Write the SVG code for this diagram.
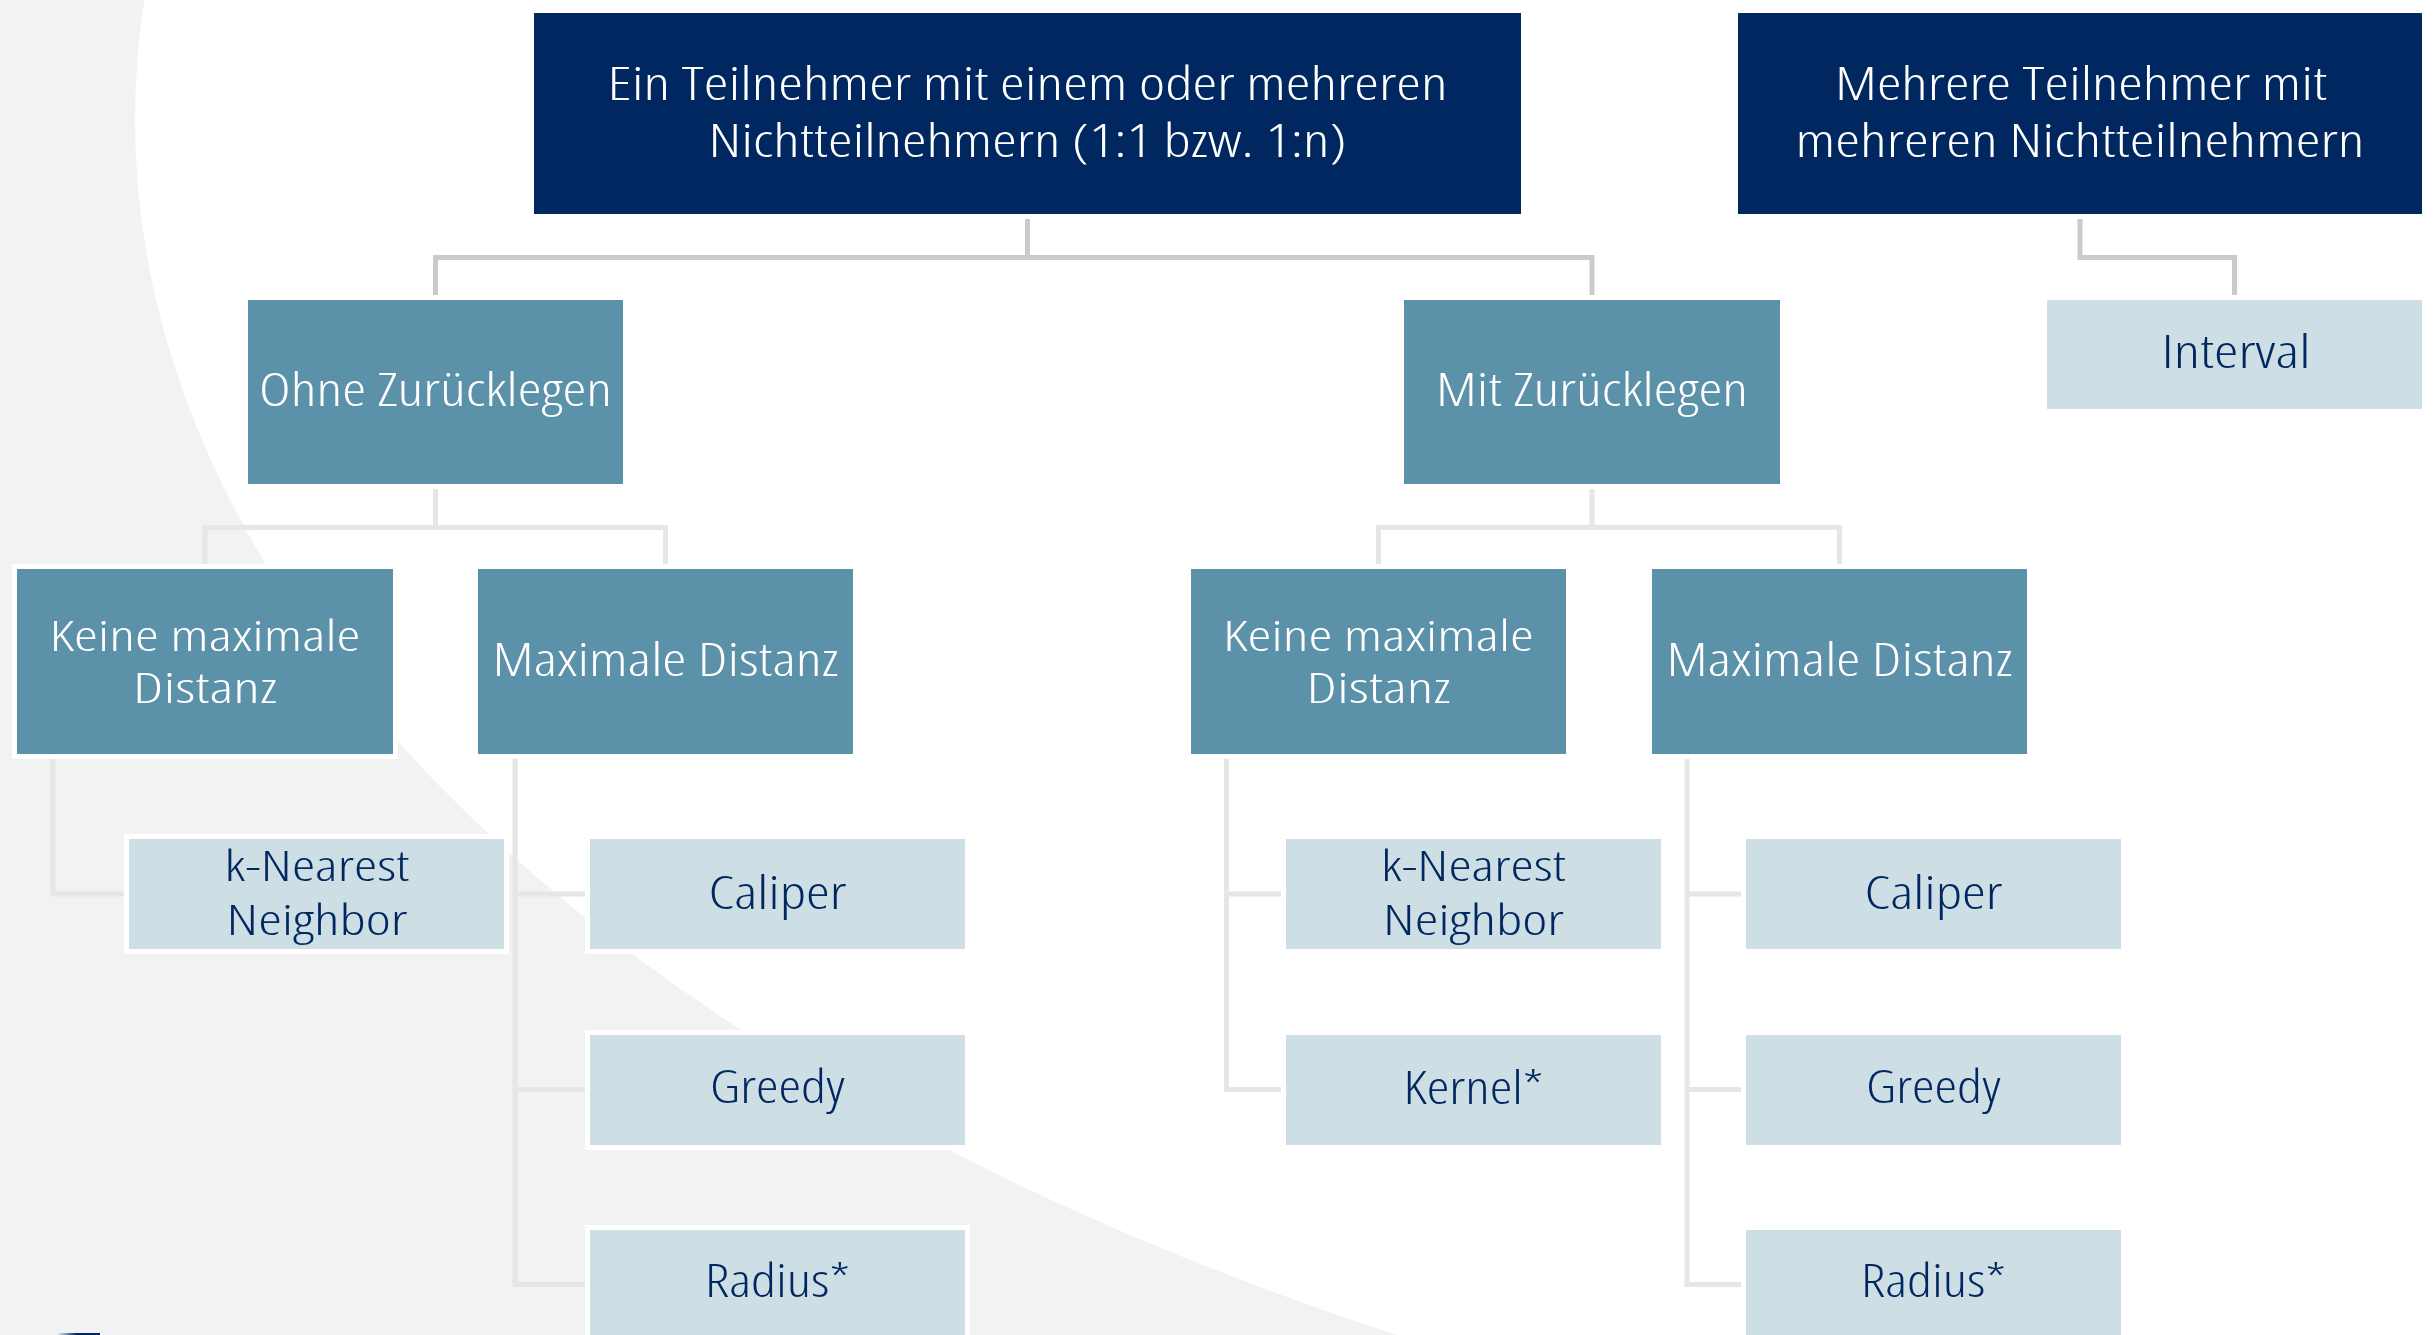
<svg xmlns="http://www.w3.org/2000/svg" width="2435" height="1335" viewBox="0 0 2435 1335">
<style>
.bg{fill:#f2f2f2}
.hole{fill:#ffffff}
.c1{fill:none;stroke:#cbcbcb;stroke-width:5}
.c2{fill:none;stroke:#e6e6e6;stroke-width:5}
.box{stroke:#ffffff;stroke-width:10;paint-order:stroke}
.navy{fill:#00275f}
.mid{fill:#5c91aa}
.light{fill:#cddee5}
text{font-family:"Open Sans","Noto Sans","Liberation Sans",sans-serif;font-size:46px;font-weight:300;font-stretch:80%;text-anchor:middle}
text.two{font-size:42px}
.tw{fill:#ffffff}
.tn{fill:#00275f}
</style>
<defs>
<linearGradient id="fade" x1="0" y1="0" x2="1" y2="0">
<stop offset="0" stop-color="#00275f" stop-opacity="0"/>
<stop offset="0.45" stop-color="#00275f" stop-opacity="1"/>
</linearGradient>
</defs>
<rect class="bg" x="0" y="0" width="2435" height="1335"/>
<ellipse class="hole" cx="2719" cy="120" rx="2584" ry="1414"/>
<rect x="57" y="1333" width="43" height="2" fill="url(#fade)"/>

<g id="connectors">
<path class="c1" d="M1027.5 214 V257.5 M435.5 300 V257.5 H1592 V300"/>
<path class="c1" d="M2080 214 V257.5 H2234.5 V300"/>
<path class="c2" d="M435.5 484 V527.5 M205 569 V527.5 H665.5 V569"/>
<path class="c2" d="M1592 484 V527.5 M1378.5 569 V527.5 H1839.5 V569"/>
<path class="c2" d="M53 754 V894 H129"/>
<path class="c2" d="M515 754 V1284.5 H590 M515 894 H590 M515 1089.5 H590"/>
<path class="c2" d="M1226.5 754 V1089.5 H1286 M1226.5 894 H1286"/>
<path class="c2" d="M1687 754 V1284.5 H1746 M1687 894 H1746 M1687 1089.5 H1746"/>
</g>

<g id="n-top1">
<rect class="box navy" x="534" y="13" width="987" height="201"/>
<text class="tw"><tspan x="1027.5" y="100" textLength="840" lengthAdjust="spacingAndGlyphs">Ein Teilnehmer mit einem oder mehreren</tspan><tspan x="1027.5" y="157" textLength="638" lengthAdjust="spacingAndGlyphs">Nichtteilnehmern (1:1 bzw. 1:n)</tspan></text>
</g>
<g id="n-top2">
<rect class="box navy" x="1738" y="13" width="684" height="201"/>
<text class="tw"><tspan x="2081" y="100" textLength="492" lengthAdjust="spacingAndGlyphs">Mehrere Teilnehmer mit</tspan><tspan x="2080" y="157" textLength="569" lengthAdjust="spacingAndGlyphs">mehreren Nichtteilnehmern</tspan></text>
</g>
<g id="n-ohne">
<rect class="box mid" x="248" y="300" width="375" height="184"/>
<text class="tw" x="435.5" y="406" textLength="353" lengthAdjust="spacingAndGlyphs">Ohne Zurücklegen</text>
</g>
<g id="n-mit">
<rect class="box mid" x="1404" y="300" width="376" height="184"/>
<text class="tw" x="1592" y="406" textLength="312" lengthAdjust="spacingAndGlyphs">Mit Zurücklegen</text>
</g>
<g id="n-interval">
<rect class="box light" x="2047" y="300" width="375" height="109"/>
<text class="tn" x="2236" y="368" textLength="149" lengthAdjust="spacingAndGlyphs">Interval</text>
</g>
<g id="n-keine-l">
<rect class="box mid" x="17" y="569" width="376" height="185"/>
<text class="tw two"><tspan x="205" y="651" textLength="311" lengthAdjust="spacingAndGlyphs">Keine maximale</tspan><tspan x="205" y="703" textLength="144" lengthAdjust="spacingAndGlyphs">Distanz</tspan></text>
</g>
<g id="n-max-l">
<rect class="box mid" x="478" y="569" width="375" height="185"/>
<text class="tw" x="665.5" y="676" textLength="346" lengthAdjust="spacingAndGlyphs">Maximale Distanz</text>
</g>
<g id="n-keine-r">
<rect class="box mid" x="1191" y="569" width="375" height="185"/>
<text class="tw two"><tspan x="1378.5" y="651" textLength="311" lengthAdjust="spacingAndGlyphs">Keine maximale</tspan><tspan x="1378.5" y="703" textLength="144" lengthAdjust="spacingAndGlyphs">Distanz</tspan></text>
</g>
<g id="n-max-r">
<rect class="box mid" x="1652" y="569" width="375" height="185"/>
<text class="tw" x="1839.5" y="676" textLength="346" lengthAdjust="spacingAndGlyphs">Maximale Distanz</text>
</g>
<g id="n-knn-l">
<rect class="box light" x="129" y="839" width="375" height="110"/>
<text class="tn two"><tspan x="317" y="881" textLength="185" lengthAdjust="spacingAndGlyphs">k-Nearest</tspan><tspan x="317" y="935" textLength="181" lengthAdjust="spacingAndGlyphs">Neighbor</tspan></text>
</g>
<g id="n-caliper-l">
<rect class="box light" x="590" y="839" width="375" height="110"/>
<text class="tn" x="777.5" y="909" textLength="138" lengthAdjust="spacingAndGlyphs">Caliper</text>
</g>
<g id="n-greedy-l">
<rect class="box light" x="590" y="1035" width="375" height="110"/>
<text class="tn" x="777.5" y="1103" textLength="135" lengthAdjust="spacingAndGlyphs">Greedy</text>
</g>
<g id="n-radius-l">
<rect class="box light" x="590" y="1230" width="375" height="110"/>
<text class="tn" x="777.5" y="1297" textLength="145" lengthAdjust="spacingAndGlyphs">Radius*</text>
</g>
<g id="n-knn-r">
<rect class="box light" x="1286" y="839" width="375" height="110"/>
<text class="tn two"><tspan x="1473.5" y="881" textLength="185" lengthAdjust="spacingAndGlyphs">k-Nearest</tspan><tspan x="1473.5" y="935" textLength="181" lengthAdjust="spacingAndGlyphs">Neighbor</tspan></text>
</g>
<g id="n-kernel-r">
<rect class="box light" x="1286" y="1035" width="375" height="110"/>
<text class="tn" x="1473.5" y="1104" textLength="140" lengthAdjust="spacingAndGlyphs">Kernel*</text>
</g>
<g id="n-caliper-r">
<rect class="box light" x="1746" y="839" width="375" height="110"/>
<text class="tn" x="1933.5" y="909" textLength="138" lengthAdjust="spacingAndGlyphs">Caliper</text>
</g>
<g id="n-greedy-r">
<rect class="box light" x="1746" y="1035" width="375" height="110"/>
<text class="tn" x="1933.5" y="1103" textLength="135" lengthAdjust="spacingAndGlyphs">Greedy</text>
</g>
<g id="n-radius-r">
<rect class="box light" x="1746" y="1230" width="375" height="110"/>
<text class="tn" x="1933.5" y="1297" textLength="145" lengthAdjust="spacingAndGlyphs">Radius*</text>
</g>
</svg>
